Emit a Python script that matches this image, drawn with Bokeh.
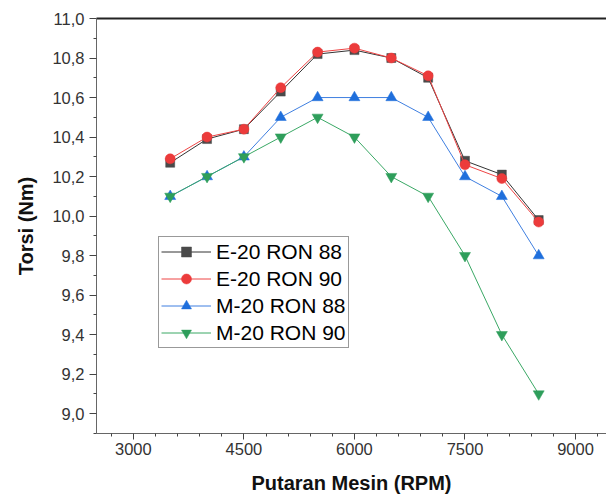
from bokeh.plotting import figure
from bokeh.models import (Range1d, FixedTicker, CustomJSTickFormatter, Legend, LegendItem,
                          LinearAxis)
from bokeh.embed import file_html
from bokeh.resources import INLINE

rpm = [3500, 4000, 4500, 5000, 5500, 6000, 6500, 7000, 7500, 8000, 8500]
e20_ron88 = [10.27, 10.39, 10.44, 10.63, 10.82, 10.84, 10.80, 10.70, 10.28, 10.21, 9.98]
e20_ron90 = [10.29, 10.40, 10.44, 10.65, 10.83, 10.85, 10.80, 10.71, 10.26, 10.19, 9.97]
m20_ron88 = [10.10, 10.20, 10.30, 10.50, 10.60, 10.60, 10.60, 10.50, 10.20, 10.10, 9.80]
m20_ron90 = [10.10, 10.20, 10.30, 10.40, 10.50, 10.40, 10.20, 10.10, 9.80, 9.40, 9.10]

series_names = ["E-20 RON 88", "E-20 RON 90", "M-20 RON 88", "M-20 RON 90"]
x_ticks = [3000, 4500, 6000, 7500, 9000]
x_minor = [2700, 3300, 3600, 3900, 4200, 4800, 5100, 5400, 5700, 6300, 6600, 6900, 7200,
           7800, 8100, 8400, 8700, 9300]
y_ticks = [9.0, 9.2, 9.4, 9.6, 9.8, 10.0, 10.2, 10.4, 10.6, 10.8, 11.0]
y_minor = [8.9, 9.1, 9.3, 9.5, 9.7, 9.9, 10.1, 10.3, 10.5, 10.7, 10.9]

FONT = "Liberation Sans"

p = figure(width=606, height=500, output_backend="svg", toolbar_location=None,
           x_range=Range1d(2500, 9420), y_range=Range1d(8.9, 11.0),
           min_border_left=96, min_border_right=0, min_border_top=18, min_border_bottom=67)
p.outline_line_color = None
p.xgrid.visible = False
p.ygrid.visible = False
p.background_fill_color = "white"

styles = [
    dict(line="#333333", fill="#4a4a4a", marker="square", size=9),
    dict(line="#ee4444", fill="#ec3b3b", marker="circle", size=10),
    dict(line="#3f7fe0", fill="#1f6fdc", marker="triangle", size=11),
    dict(line="#3aa865", fill="#2e9e5b", marker="inverted_triangle", size=11),
]
data = [e20_ron88, e20_ron90, m20_ron88, m20_ron90]

items = []
for name, ys, st in zip(series_names, data, styles):
    r1 = p.line(rpm, ys, line_color=st["line"], line_width=1)
    r2 = p.scatter(rpm, ys, marker=st["marker"], size=st["size"],
                   fill_color=st["fill"], line_color=st["fill"], line_width=0.5)
    items.append(LegendItem(label=name, renderers=[r1, r2]))

legend = Legend(items=items, location=(62, 85))
legend.label_text_font = FONT
legend.label_text_font_size = "21px"
legend.label_text_color = "black"
legend.glyph_width = 50
legend.glyph_height = 25
legend.label_height = 25
legend.label_standoff = 5
legend.spacing = 2
legend.padding = 2
legend.margin = 0
legend.border_line_color = "#333333"
legend.border_line_width = 1
legend.background_fill_alpha = 1
p.add_layout(legend, "center")

xa = p.xaxis[0]
xa.ticker = FixedTicker(ticks=x_ticks, minor_ticks=x_minor)
xa.axis_label = "Putaran Mesin (RPM)"
ya = p.yaxis[0]
ya.ticker = FixedTicker(ticks=y_ticks, minor_ticks=y_minor)
ya.formatter = CustomJSTickFormatter(code="return tick.toFixed(1).replace('.', ',');")
ya.axis_label = "Torsi (Nm)"

for ax in (xa, ya):
    ax.axis_line_color = "#666666"
    ax.axis_line_width = 1
    ax.major_tick_line_color = "#444444"
    ax.minor_tick_line_color = "#444444"
    ax.major_tick_in = 0
    ax.minor_tick_in = 0
    ax.major_label_text_font = FONT
    ax.major_label_text_font_size = "16.5px"
    ax.major_label_text_color = "#333333"
    ax.axis_label_text_font = FONT
    ax.axis_label_text_font_size = "20px"
    ax.axis_label_text_font_style = "bold"
    ax.axis_label_text_color = "#111111"

ya.major_tick_out = 7
ya.minor_tick_out = 3
ya.major_label_standoff = 5
ya.axis_label_standoff = 12
xa.major_tick_out = 6
xa.minor_tick_out = 3
xa.major_label_standoff = 3
xa.axis_label_standoff = 14

top = LinearAxis(ticker=FixedTicker(ticks=[], minor_ticks=[]),
                 major_tick_out=0, major_tick_in=0,
                 minor_tick_out=0, minor_tick_in=0, axis_line_color="#222222",
                 axis_line_width=2, major_label_standoff=0)
p.add_layout(top, "above")

open("out.html", "w").write(file_html(p, INLINE))
